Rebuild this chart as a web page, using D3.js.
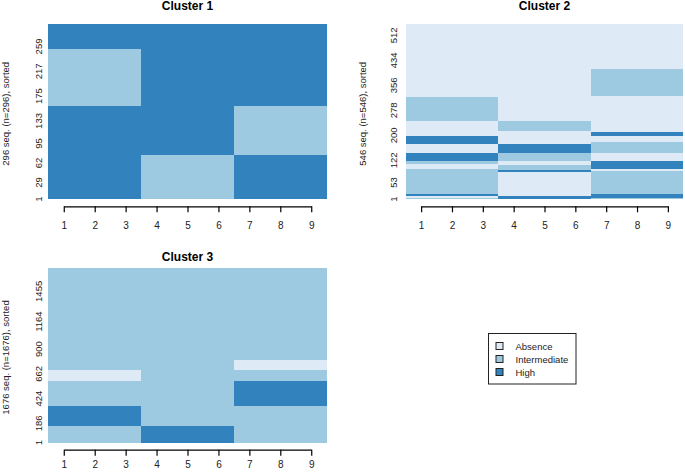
<!DOCTYPE html>
<html>
<head>
<meta charset="utf-8">
<script src="https://cdn.jsdelivr.net/npm/d3@7"></script>
<style>
    body { margin: 0; background: #fff; }
    svg { font-family: "Liberation Sans", Arial, sans-serif; }
</style>
</head>
<body>
<script>
(function(){
    // states & colours (Blues palette)
    var states = ["A", "I", "H"];
    var stateNames = ["Absence", "Intermediate", "High"];
    var stateColors = ["#DEEBF7", "#9ECAE1", "#3182BD"];

    var positions = [1, 2, 3, 4, 5, 6, 7, 8, 9];

    // distinct sequences per cluster, bottom to top, and how many of each
    var c1Patterns = ["HHHIIIHHH", "HHHHHHIII", "IIIHHHHHH", "HHHHHHHHH"];
    var c1Counts = [75, 83, 96, 42];
    var c1Ticks = [1, 29, 62, 95, 133, 175, 217, 259];

    var c2Patterns = [
        "IIIHHHIII", "AAAHHHHHH", "HHHAAAHHH", "IIIAAAIII", "IIIHHHIII",
        "IIIHHHAAA", "IIIIIIAAA", "AAAIIIHHH", "AAAAAAHHH", "IIIAAAHHH",
        "HHHIIIAAA", "AAAHHHIII", "HHHAAAIII", "HHHAAAAAA", "AAAAAAHHH",
        "AAAAAAAAA", "AAAIIIAAA", "IIIAAAAAA", "AAAAAAAAA", "AAAAAAIII",
        "AAAAAAAAA"
    ];
    var c2Counts = [3, 8, 6, 69, 2, 3, 4, 12, 4, 9, 25, 27, 8, 18, 13, 2, 32, 75, 2, 84, 140];
    var c2Ticks = [1, 53, 122, 200, 278, 356, 434, 512];

    var c3Patterns = ["IIIHHHIII", "HHHIIIIII", "IIIIIIHHH", "AAAIIIIII", "IIIIIIAAA", "IIIIIIIII"];
    var c3Counts = [163, 192, 241, 100, 99, 881];
    var c3Ticks = [1, 186, 424, 662, 900, 1164, 1455];

    var width = 685, height = 475;

    var svg = d3.select("body").append("svg")
        .attr("width", width)
        .attr("height", height);

    var color = d3.scaleOrdinal().domain(states).range(stateColors);

    drawPanel({
        title: "Cluster 1", patterns: c1Patterns, counts: c1Counts, ticks: c1Ticks,
        left: 48.3, right: 326.7, top: 24.3, bottom: 199.3,
        titleY: 10, ylabX: 8.5, ytickX: 41.5, axisGap: 7, tickPad: 10
    });
    drawPanel({
        title: "Cluster 2", patterns: c2Patterns, counts: c2Counts, ticks: c2Ticks,
        left: 405.7, right: 683.3, top: 24.3, bottom: 199.3,
        titleY: 10, ylabX: 365.5, ytickX: 397, axisGap: 7, tickPad: 10
    });
    drawPanel({
        title: "Cluster 3", patterns: c3Patterns, counts: c3Counts, ticks: c3Ticks,
        left: 48.3, right: 326.7, top: 268.3, bottom: 442.7,
        titleY: 260.5, ylabX: 8.5, ytickX: 41.5, axisGap: 7, tickPad: 5.5
    });

    drawLegend();

    function drawPanel(p){
        var total = d3.sum(p.counts);
        var g = svg.append("g");

        var x = d3.scaleBand()
            .domain(positions)
            .range([p.left, p.right])
            .padding(0);

        var y = d3.scaleLinear()
            .domain([0, total])
            .range([p.bottom, p.top]);

        // cumulative start of each distinct sequence
        var rows = [];
        var start = 0;
        p.patterns.forEach(function(pat, i){
            var end = start + p.counts[i];
            // split sequence into runs of the same state
            var j = 0;
            while (j < pat.length){
                var k = j;
                while (k + 1 < pat.length && pat[k + 1] === pat[j]) k++;
                rows.push({ s: pat[j], from: positions[j], to: positions[k], y0: start, y1: end });
                j = k + 1;
            }
            start = end;
        });

        g.selectAll(".cell")
            .data(rows)
            .enter()
            .append("rect")
            .attr("class", "cell")
            .attr("x", function(d){ return x(d.from); })
            .attr("width", function(d){ return x(d.to) + x.bandwidth() - x(d.from); })
            .attr("y", function(d){ return y(d.y1); })
            .attr("height", function(d){ return y(d.y0) - y(d.y1); })
            .attr("fill", function(d){ return color(d.s); })
            .attr("shape-rendering", "crispEdges");

        // title
        g.append("text")
            .attr("x", (p.left + p.right) / 2)
            .attr("y", p.titleY)
            .attr("text-anchor", "middle")
            .style("font-size", "12px")
            .style("font-weight", "bold")
            .text(p.title);

        // y tick labels (no axis line)
        g.selectAll(".ytick")
            .data(p.ticks)
            .enter()
            .append("text")
            .attr("class", "ytick")
            .attr("transform", function(d){
                return "translate(" + p.ytickX + "," + y(d - 0.5) + ") rotate(-90)";
            })
            .attr("text-anchor", "middle")
            .style("font-size", "9.5px")
            .attr("fill", "#222")
            .text(function(d){ return d; });

        // y label
        var ymid = (p.top + p.bottom) / 2 + 2;
        g.append("text")
            .attr("transform", "translate(" + p.ylabX + "," + ymid + ") rotate(-90)")
            .attr("text-anchor", "middle")
            .style("font-size", "9.5px")
            .attr("fill", "#222")
            .text(total + " seq. (n=" + total + "), sorted");

        // x axis
        var xc = function(v){ return x(v) + x.bandwidth() / 2; };
        var axisY = p.bottom + p.axisGap;
        var xAxis = d3.axisBottom(d3.scaleLinear().domain([1, 9]).range([xc(1), xc(9)]))
            .tickValues(positions)
            .tickFormat(d3.format("d"))
            .tickSize(6)
            .tickSizeOuter(0)
            .tickPadding(p.tickPad);

        var ax = g.append("g")
            .attr("transform", "translate(0," + axisY + ")")
            .call(xAxis);
        ax.select(".domain").attr("stroke", "#000").attr("stroke-width", 1.2);
        ax.selectAll(".tick line").attr("stroke", "#000").attr("stroke-width", 1.2);
        ax.selectAll(".tick text")
            .attr("fill", "#222")
            .style("font-size", "10px")
            .style("font-family", "Liberation Sans, Arial, sans-serif");
    }

    function drawLegend(){
        var lg = svg.append("g");
        lg.append("rect")
            .attr("x", 488.5)
            .attr("y", 333.5)
            .attr("width", 87.5)
            .attr("height", 50.5)
            .attr("fill", "#fff")
            .attr("stroke", "#222")
            .attr("stroke-width", 1);

        var ly = d3.scalePoint().domain(stateNames).range([346, 372]);

        lg.selectAll(".key")
            .data(stateNames)
            .enter()
            .append("rect")
            .attr("class", "key")
            .attr("x", 496)
            .attr("y", function(d){ return ly(d) - 3.5; })
            .attr("width", 7)
            .attr("height", 7)
            .attr("fill", function(d, i){ return stateColors[i]; })
            .attr("stroke", "#222")
            .attr("stroke-width", 1);

        lg.selectAll(".keytext")
            .data(stateNames)
            .enter()
            .append("text")
            .attr("class", "keytext")
            .attr("x", 515.5)
            .attr("y", function(d){ return ly(d) + 3.5; })
            .style("font-size", "9.5px")
            .attr("fill", "#222")
            .text(function(d){ return d; });
    }
})();
</script>
</body>
</html>
